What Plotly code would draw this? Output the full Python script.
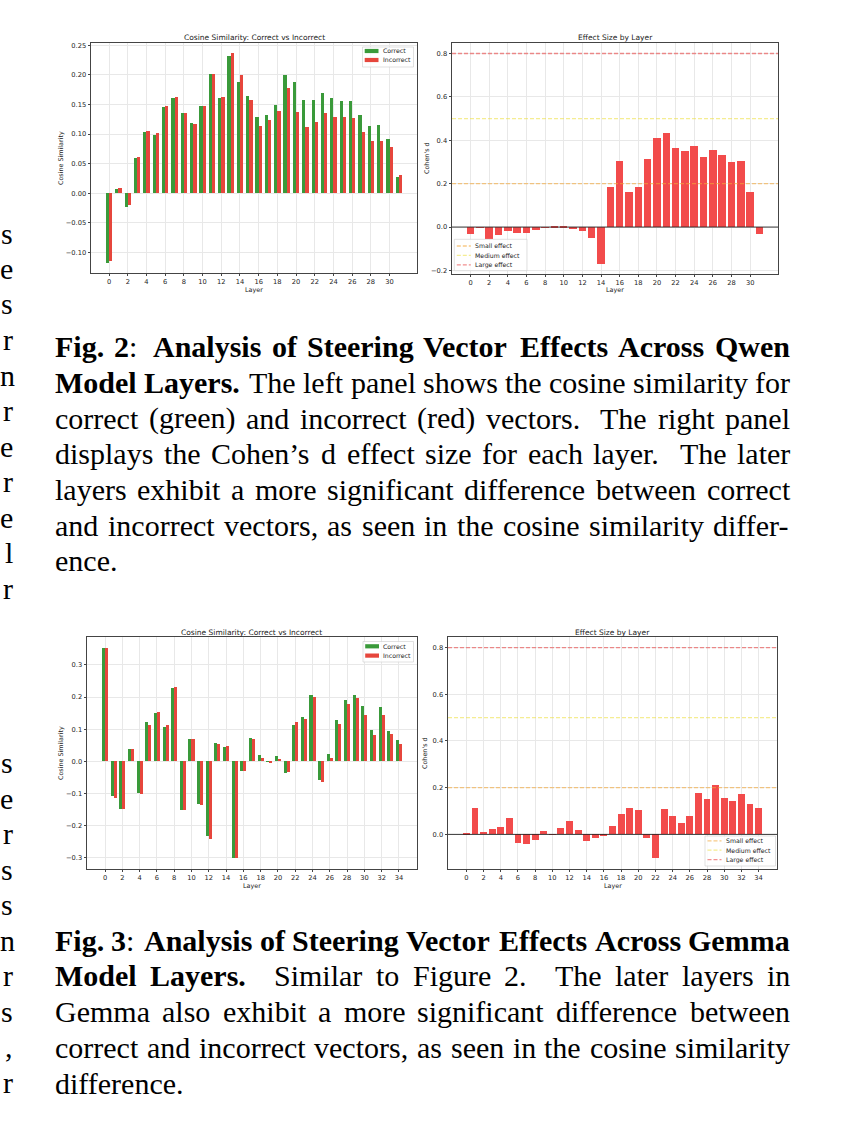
import re
import plotly.graph_objects as go

# ---------------- data ----------------
layers_qwen = list(range(32))
qwen_correct = [-0.117, 0.008, -0.023, 0.059, 0.103, 0.099, 0.145, 0.161, 0.136, 0.118,
                0.147, 0.201, 0.160, 0.232, 0.187, 0.165, 0.128, 0.132, 0.149, 0.200,
                0.187, 0.157, 0.158, 0.169, 0.160, 0.155, 0.156, 0.132, 0.114, 0.115,
                0.092, 0.027]
qwen_incorrect = [-0.115, 0.009, -0.020, 0.061, 0.105, 0.101, 0.147, 0.163, 0.136, 0.117,
                  0.147, 0.202, 0.162, 0.236, 0.199, 0.157, 0.114, 0.123, 0.139, 0.177,
                  0.137, 0.112, 0.120, 0.136, 0.128, 0.128, 0.127, 0.104, 0.088, 0.088,
                  0.078, 0.031]
qwen_cohen_d = [-0.031, -0.003, -0.053, -0.035, -0.018, -0.027, -0.027, -0.013, -0.002, 0.004,
                0.001, -0.005, -0.020, -0.052, -0.168, 0.186, 0.306, 0.161, 0.185, 0.315,
                0.412, 0.432, 0.366, 0.350, 0.373, 0.322, 0.353, 0.332, 0.300, 0.306,
                0.163, -0.030]

layers_gemma = list(range(35))
gemma_correct = [0.354, -0.107, -0.147, 0.040, -0.098, 0.122, 0.150, 0.106, 0.228, -0.150,
                 0.071, -0.133, -0.233, 0.057, 0.044, -0.302, -0.030, 0.074, 0.019, -0.002,
                 0.016, -0.037, 0.112, 0.139, 0.206, -0.059, 0.024, 0.128, 0.191, 0.207,
                 0.171, 0.099, 0.170, 0.095, 0.066]
gemma_incorrect = [0.352, -0.115, -0.148, 0.038, -0.101, 0.114, 0.155, 0.112, 0.232, -0.152,
                   0.070, -0.137, -0.242, 0.055, 0.047, -0.302, -0.030, 0.069, 0.012, -0.006,
                   0.008, -0.034, 0.122, 0.133, 0.201, -0.063, 0.012, 0.116, 0.179, 0.197,
                   0.143, 0.083, 0.144, 0.086, 0.053]
gemma_cohen_d = [0.004, 0.113, 0.010, 0.022, 0.032, 0.071, -0.038, -0.043, -0.024, 0.016,
                 0.001, 0.028, 0.058, 0.019, -0.029, -0.017, -0.006, 0.037, 0.088, 0.112,
                 0.104, -0.015, -0.103, 0.107, 0.079, 0.050, 0.080, 0.176, 0.150, 0.210,
                 0.156, 0.145, 0.172, 0.129, 0.114]

effect_thresholds = [0.2, 0.5, 0.8]
effect_labels = ["Small effect", "Medium effect", "Large effect"]
series_labels = ["Correct", "Incorrect"]

cos_title = "Cosine Similarity: Correct vs Incorrect"
eff_title = "Effect Size by Layer"

fig2_caption = [
    "<b>Fig.</b> <b>2</b>: <b>Analysis</b> <b>of</b> <b>Steering</b> <b>Vector</b> <b>Effects</b> <b>Across</b> <b>Qwen</b>",
    "<b>Model</b> <b>Layers.</b> The left panel shows the cosine similarity for",
    "correct (green) and incorrect (red) vectors. The right panel",
    "displays the Cohen’s d effect size for each layer. The later",
    "layers exhibit a more significant difference between correct",
    "and incorrect vectors, as seen in the cosine similarity differ-",
    "ence.",
]
fig3_caption = [
    "<b>Fig.</b> <b>3</b>: <b>Analysis</b> <b>of</b> <b>Steering</b> <b>Vector</b> <b>Effects</b> <b>Across</b> <b>Gemma</b>",
    "<b>Model</b> <b>Layers.</b> Similar to Figure 2. The later layers in",
    "Gemma also exhibit a more significant difference between",
    "correct and incorrect vectors, as seen in the cosine similarity",
    "difference.",
]
edge_top = ["s", "e", "s", "r", "n", "r", "e", "r", "e", "l", "r"]
edge_bottom = ["s", "e", "r", "s", "s", "n", "r", "s", ",", "r"]

# ---------------- styling ----------------
W, H = 841, 1129
GREEN = "#3a9a3a"
RED = "#e6463c"
RED_BAR = "#f24b4b"
THR_COLORS = ["#f5a93a", "#f0e24a", "#ec4848"]
AX_FONT = dict(family="DejaVu Sans", size=6.7, color="#222222")
SERIF = "Liberation Serif"
CAP_SIZE = 30


def px(x):
    return x / W


def py(y):
    return 1 - y / H


def mpl_range(lo, hi, m=0.05):
    d = (hi - lo) * m
    return [lo - d, hi + d]


fig = go.Figure()

boxes = {
    1: (91, 43, 417, 273),
    2: (452, 43, 778, 274),
    3: (87, 637, 417, 869),
    4: (448, 637, 777, 869),
}

# --- cosine panels ---
for k, layers, corr, inc in [(1, layers_qwen, qwen_correct, qwen_incorrect),
                             (3, layers_gemma, gemma_correct, gemma_incorrect)]:
    xa = "x" if k == 1 else "x%d" % k
    ya = "y" if k == 1 else "y%d" % k
    fig.add_trace(go.Bar(x=layers, y=corr, width=0.35, offset=-0.35, name=series_labels[0],
                         marker=dict(color=GREEN, line=dict(width=0)), xaxis=xa, yaxis=ya,
                         showlegend=False))
    fig.add_trace(go.Bar(x=layers, y=inc, width=0.35, offset=0.0, name=series_labels[1],
                         marker=dict(color=RED, line=dict(width=0)), xaxis=xa, yaxis=ya,
                         showlegend=False))

# --- effect size panels ---
for k, layers, d in [(2, layers_qwen, qwen_cohen_d), (4, layers_gemma, gemma_cohen_d)]:
    fig.add_trace(go.Bar(x=layers, y=d, width=0.8, name="Cohen's d",
                         marker=dict(color=RED_BAR, line=dict(width=0)),
                         xaxis="x%d" % k, yaxis="y%d" % k, showlegend=False))

layout_axes = {}
ranges = {
    1: (mpl_range(min(layers_qwen) - 0.35, max(layers_qwen) + 0.35),
        mpl_range(min(min(qwen_correct), min(qwen_incorrect), 0), max(max(qwen_correct), max(qwen_incorrect), 0)),
        0.05, ".2f", layers_qwen),
    2: (mpl_range(min(layers_qwen) - 0.4, max(layers_qwen) + 0.4),
        mpl_range(min(min(qwen_cohen_d), 0), max(max(qwen_cohen_d), max(effect_thresholds))),
        0.2, ".1f", layers_qwen),
    3: (mpl_range(min(layers_gemma) - 0.35, max(layers_gemma) + 0.35),
        mpl_range(min(min(gemma_correct), min(gemma_incorrect), 0), max(max(gemma_correct), max(gemma_incorrect), 0)),
        0.1, ".1f", layers_gemma),
    4: (mpl_range(min(layers_gemma) - 0.4, max(layers_gemma) + 0.4),
        mpl_range(min(min(gemma_cohen_d), 0), max(max(gemma_cohen_d), max(effect_thresholds))),
        0.2, ".1f", layers_gemma),
}
for k, (x0, y0, x1, y1) in boxes.items():
    xr, yr, dt, fmt, layers = ranges[k]
    xname = "xaxis" if k == 1 else "xaxis%d" % k
    yname = "yaxis" if k == 1 else "yaxis%d" % k
    anchor_x = "y" if k == 1 else "y%d" % k
    anchor_y = "x" if k == 1 else "x%d" % k
    common = dict(showline=True, linecolor="#444444", linewidth=0.8, mirror=True,
                  ticks="outside", ticklen=2.5, tickwidth=0.6, tickcolor="#444444",
                  tickfont=AX_FONT, showgrid=True, gridcolor="#e8e8e8", gridwidth=0.6,
                  zeroline=False, automargin=False, fixedrange=True)
    layout_axes[xname] = dict(domain=[px(x0), px(x1)], range=xr, anchor=anchor_x,
                              tickmode="array", tickvals=list(range(0, len(layers), 2)),
                              **common)
    layout_axes[yname] = dict(domain=[py(y1), py(y0)], range=yr, anchor=anchor_y,
                              tick0=0, dtick=dt, tickformat=fmt, **common)

shapes = []
annotations = []

# threshold lines and zero line on effect panels
for k in (2, 4):
    for t, c in zip(effect_thresholds, THR_COLORS):
        shapes.append(dict(type="line", xref="x%d domain" % k, yref="y%d" % k, x0=0, x1=1,
                           y0=t, y1=t, line=dict(color=c, width=1.3, dash="4px,2px"),
                           opacity=0.6, layer="above"))
    shapes.append(dict(type="line", xref="x%d domain" % k, yref="y%d" % k, x0=0, x1=1,
                       y0=0, y1=0, line=dict(color="#222222", width=0.9), layer="above"))


def ann(text, x, y, size=6.4, xanchor="center", yanchor="middle", angle=0,
        family="DejaVu Sans", color="#222222"):
    annotations.append(dict(text=text, x=px(x), y=py(y), xref="paper", yref="paper",
                            showarrow=False, xanchor=xanchor, yanchor=yanchor,
                            textangle=angle, borderpad=0, borderwidth=0,
                            font=dict(family=family, size=size, color=color)))


# panel titles and axis labels
ann(cos_title, 254, 37, size=7.5)
ann(eff_title, 615, 37, size=7.5)
ann(cos_title, 252, 632, size=7.5)
ann(eff_title, 612.5, 632, size=7.5)
for xc, yc in [(254, 290), (615, 290), (252, 886), (612.5, 886)]:
    ann("Layer", xc, yc)
ann("Cosine Similarity", 61, 158, angle=-90)
ann("Cohen's d", 427, 158, angle=-90)
ann("Cosine Similarity", 61, 753, angle=-90)
ann("Cohen's d", 425, 753, angle=-90)


def legend_frame(x0, y0, x1, y1):
    shapes.append(dict(type="rect", xref="paper", yref="paper", x0=px(x0), x1=px(x1),
                       y0=py(y1), y1=py(y0), fillcolor="rgba(255,255,255,0.8)",
                       line=dict(color="#cccccc", width=0.6), layer="above"))


# legends for cosine panels
for (fx0, fy0, fx1, fy1), rows in [((362.5, 47, 413.5, 67), (51, 60)),
                                   ((363, 641.5, 413.5, 662), (646.3, 655.6))]:
    legend_frame(fx0, fy0, fx1, fy1)
    for lab, col, yc in zip(series_labels, [GREEN, RED], rows):
        shapes.append(dict(type="rect", xref="paper", yref="paper", x0=px(fx0 + 2.2),
                           x1=px(fx0 + 16), y0=py(yc + 2.1), y1=py(yc - 2.1),
                           fillcolor=col, line=dict(width=0), layer="above"))
        ann(lab, fx0 + 20.2, yc, xanchor="left", size=6.2)

# legends for effect panels
for (fx0, fy0, fx1, fy1), rows in [((454.3, 239.3, 527, 270.7), (246, 255.4, 264.8)),
                                   ((705, 836, 775.5, 866), (840.8, 850.1, 859.6))]:
    legend_frame(fx0, fy0, fx1, fy1)
    for lab, col, yc in zip(effect_labels, THR_COLORS, rows):
        shapes.append(dict(type="line", xref="paper", yref="paper", x0=px(fx0 + 2.5),
                           x1=px(fx0 + 16.5), y0=py(yc), y1=py(yc),
                           line=dict(color=col, width=1.3, dash="4px,2px"),
                           opacity=0.6, layer="above"))
        ann(lab, fx0 + 21, yc, xanchor="left", size=6.2)

# ---------------- captions (justified, word by word) ----------------
TR = {' ': 250, '(': 333, ')': 333, ',': 250, '-': 333, '.': 250, ':': 278, '’': 333, "'": 180,
      'A': 722, 'B': 667, 'C': 667, 'D': 722, 'E': 611, 'F': 556, 'G': 722, 'H': 722, 'I': 333,
      'J': 389, 'K': 722, 'L': 611, 'M': 889, 'N': 722, 'O': 722, 'P': 556, 'Q': 722, 'R': 667,
      'S': 556, 'T': 611, 'U': 722, 'V': 722, 'W': 944, 'X': 722, 'Y': 722, 'Z': 611,
      'a': 444, 'b': 500, 'c': 444, 'd': 500, 'e': 444, 'f': 333, 'g': 500, 'h': 500, 'i': 278,
      'j': 278, 'k': 500, 'l': 278, 'm': 778, 'n': 500, 'o': 500, 'p': 500, 'q': 500, 'r': 333,
      's': 389, 't': 278, 'u': 500, 'v': 500, 'w': 722, 'x': 500, 'y': 500, 'z': 444}
TB = {' ': 250, ':': 333, '.': 250, ',': 250,
      'A': 722, 'B': 667, 'C': 722, 'D': 722, 'E': 667, 'F': 611, 'G': 778, 'H': 778, 'I': 389,
      'J': 500, 'K': 778, 'L': 667, 'M': 944, 'N': 722, 'O': 778, 'P': 611, 'Q': 778, 'R': 722,
      'S': 556, 'T': 667, 'U': 722, 'V': 722, 'W': 1000, 'X': 722, 'Y': 722, 'Z': 667,
      'a': 500, 'b': 556, 'c': 444, 'd': 556, 'e': 444, 'f': 333, 'g': 500, 'h': 556, 'i': 278,
      'j': 333, 'k': 556, 'l': 278, 'm': 833, 'n': 556, 'o': 500, 'p': 556, 'q': 556, 'r': 444,
      's': 389, 't': 333, 'u': 556, 'v': 500, 'w': 722, 'x': 500, 'y': 500, 'z': 444}


def word_width(word, size):
    w = 0
    for part in re.split(r"(<b>.*?</b>)", word):
        if not part:
            continue
        if part.startswith("<b>"):
            w += sum(TB.get(ch, 500) for ch in part[3:-4])
        else:
            w += sum(TR.get(ch, 500) for ch in part)
    return w * size / 1000.0


def plain(word):
    return re.sub(r"</?b>", "", word)


def place_caption(lines, y_first, spacing, x0=55.0, x1=790.0, size=CAP_SIZE):
    for li, line in enumerate(lines):
        words = line.split(" ")
        widths = [word_width(w, size) for w in words]
        nat, sf = [], []
        for w in words[:-1]:
            p = plain(w)
            f = 1.0
            if p.endswith(".") and p != "Fig.":
                f = 3.0
            elif p.endswith(":"):
                f = 2.0
            elif p.endswith(","):
                f = 1.25
            sf.append(f)
            nat.append(0.25 * size + (0.1 * size if f >= 2 else 0.0))
        justify = li < len(lines) - 1
        if justify and sf:
            s = (x1 - x0 - sum(widths) - sum(nat)) / sum(sf)
            gaps = [n + f * s for n, f in zip(nat, sf)]
        else:
            gaps = nat
        x = x0
        y = y_first + li * spacing
        for i, w in enumerate(words):
            ann(w, x, y, size=size, xanchor="left", family=SERIF, color="#000000")
            x += widths[i] + (gaps[i] if i < len(gaps) else 0)


place_caption(fig2_caption, 346.7, 35.67)
place_caption(fig3_caption, 940.0, 35.75)

# fragments of the neighbouring text column at the left edge
for i, ch in enumerate(edge_top):
    ann(ch, 15 if ch == "n" else 13, 233 + 35.5 * i, size=CAP_SIZE, xanchor="right",
        family=SERIF, color="#000000")
for i, ch in enumerate(edge_bottom):
    ann(ch, 15 if ch == "n" else 13, 762.7 + 35.5 * i, size=CAP_SIZE, xanchor="right",
        family=SERIF, color="#000000")

fig.update_layout(
    template="none",
    width=W, height=H,
    margin=dict(l=0, r=0, t=0, b=0),
    paper_bgcolor="white", plot_bgcolor="white",
    barmode="overlay", bargap=0,
    showlegend=False,
    shapes=shapes, annotations=annotations,
    **layout_axes,
)

fig.write_html("out.html", config={"displayModeBar": False},
               post_script="document.body.style.margin='0px';document.body.style.padding='0px';")
